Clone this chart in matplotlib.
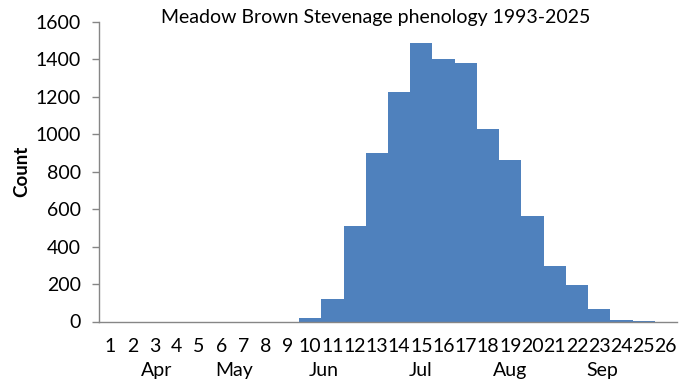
import matplotlib
matplotlib.use("Agg")
import matplotlib.pyplot as plt

# weekly counts, weeks 1-26 (week 1 = start of April)
weeks = list(range(1, 27))
counts = [0, 0, 0, 0, 0, 0, 0, 0, 0, 20, 120, 512, 898, 1228, 1486, 1401,
          1382, 1027, 863, 564, 296, 195, 67, 8, 5, 0]
months = ["Apr", "May", "Jun", "Jul", "Aug", "Sep"]
month_pos = [3.1, 6.6, 10.6, 14.95, 19.0, 23.15]

plt.rcParams['font.family'] = ['Lato', 'DejaVu Sans']

fig = plt.figure(figsize=(6.85, 3.9), dpi=100)
ax = fig.add_axes([99 / 685, 68.5 / 390, 578 / 685, 299.5 / 390])

ax.bar(weeks, counts, width=1.0, color="#4F81BD", linewidth=0)

ax.set_xlim(0.5, 26.5)
ax.set_ylim(0, 1600)
ax.set_yticks(range(0, 1601, 200))
ax.set_xticks(weeks)
ax.set_xticklabels([str(w) for w in weeks], fontsize=14)
ax.tick_params(axis='x', length=0, pad=12)
ax.tick_params(axis='y', length=5, width=1, color="#868686", labelsize=14, pad=8)

for side in ["top", "right"]:
    ax.spines[side].set_visible(False)
for side in ["left", "bottom"]:
    ax.spines[side].set_color("#868686")
    ax.spines[side].set_linewidth(1)

for m, p in zip(months, month_pos):
    ax.text(p, -0.165, m, transform=ax.get_xaxis_transform(), ha="center", va="center",
            fontsize=14)

ax.set_ylabel("Count", fontsize=13.5, fontweight="bold", labelpad=4)

fig.text(376 / 685, 1 - 17 / 390, "Meadow Brown Stevenage phenology 1993-2025",
         ha="center", va="center", fontsize=14)

fig.savefig("out.png", dpi=100)
